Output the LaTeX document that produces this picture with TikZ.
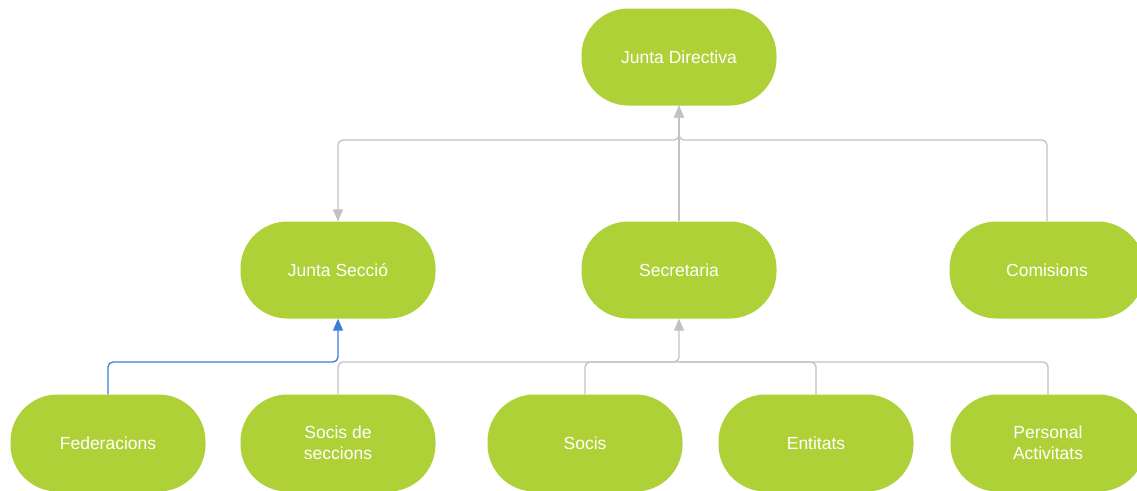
\documentclass[tikz,border=0pt]{standalone}
\usepackage{fontspec}
\setmainfont{Liberation Sans}
\usetikzlibrary{arrows.meta}
\definecolor{pill}{HTML}{ADD136}
\definecolor{conn}{HTML}{C2C2C2}
\definecolor{sel}{HTML}{3C7DD6}
\tikzset{
  pillbox/.style={fill=pill, draw=none, rounded corners=47pt, minimum width=195pt, minimum height=97pt, text=white, align=center, font=\fontsize{17.5}{21}\selectfont, inner sep=0pt},
  link/.style={draw=conn, line width=1.3pt, rounded corners=5pt, -{Triangle[length=12pt,width=10pt]}},
  plain/.style={draw=conn, line width=1.3pt, rounded corners=5pt},
  sellink/.style={draw=sel, line width=1.3pt, rounded corners=5pt, -{Triangle[length=12pt,width=10pt]}}
}
\begin{document}
\begin{tikzpicture}[x=1pt,y=-1pt]
\useasboundingbox (0,0) rectangle (1137,490);
\clip (0,0) rectangle (1137,490);
\fill[white] (0,0) rectangle (1137,490);
% nodes
\node[pillbox] (jd) at (679,57) {Junta Directiva};
\node[pillbox] (js) at (338,270) {Junta Secció};
\node[pillbox] (sec) at (679,270) {Secretaria};
\node[pillbox] (com) at (1047,270) {Comisions};
\node[pillbox] (fed) at (108,443) {Federacions};
\node[pillbox] (sds) at (338,443) {Socis de\\seccions};
\node[pillbox] (soc) at (585,443) {Socis};
\node[pillbox] (ent) at (816,443) {Entitats};
\node[pillbox] (pa) at (1048,443) {Personal\\Activitats};
% upper connectors
\coordinate (ju) at (679,140);
\draw[link] (jd.south) -- (ju) -| (js.north);
\draw[link] (com.north) |- (ju) -- (jd.south);
\draw[link] (sec.north) -- (jd.south);
% lower connectors
\coordinate (jl) at (679,362);
\draw[plain] (sds.north) |- (jl);
\draw[link] (soc.north) |- (jl) -- (sec.south);
\draw[plain] (ent.north) |- (jl);
\draw[plain] (pa.north) |- (jl);
\draw[sellink] (fed.north) |- (338,362) -- (js.south);
\end{tikzpicture}
\end{document}
